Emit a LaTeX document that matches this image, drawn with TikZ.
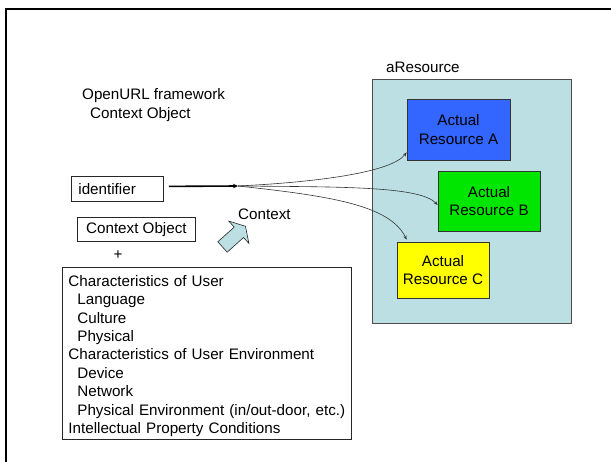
\documentclass[tikz,border=0pt]{standalone}
\usepackage{fontspec}
\setmainfont{Liberation Sans}
\usetikzlibrary{arrows.meta}
\definecolor{resbg}{RGB}{187,223,226}
\definecolor{resA}{RGB}{51,102,255}
\definecolor{resB}{RGB}{0,230,0}
\definecolor{resC}{RGB}{255,255,0}
\begin{document}
\begin{tikzpicture}[x=1pt,y=-1pt,
  font=\fontsize{15.2}{18.4}\selectfont,
  lbl/.style={anchor=base west, inner sep=0pt},
  box/.style={draw=black!85, line width=0.8pt, inner sep=0pt},
  res/.style={draw=black!80, line width=0.8pt, inner sep=0pt, align=center},
  thinarrow/.style={draw=black!80, line width=0.6pt, -{Stealth[length=4pt,width=3.2pt]}}]
\useasboundingbox (0,0) rectangle (611,462);
\fill[white] (0,0) rectangle (611,462);
\draw[line width=2pt] (6,462) -- (6,9.3) -- (611,9.3);

\node[lbl] (t1) at (82,99.5) {OpenURL framework};
\node[lbl] (t2) at (90,118.5) {Context Object};
\node[lbl] (lar) at (386,72.5) {aResource};

\node[draw=black!70, fill=resbg, line width=0.8pt, minimum width=199pt, minimum height=244pt, anchor=north west, inner sep=0pt] (big) at (372,79) {};

\node[res, fill=resA, minimum width=103pt, minimum height=61pt] (A) at (458.5,129.5) {Actual\\Resource A};
\node[res, fill=resB, minimum width=102pt, minimum height=60pt] (B) at (489,201) {Actual\\Resource B};
\node[res, fill=resC, minimum width=92pt, minimum height=56pt] (C) at (443,270) {Actual\\Resource C};

\node[box, minimum width=92pt, minimum height=25pt, anchor=north west, text width=78pt, align=left, inner xsep=7pt] (id) at (71,176) {identifier};
\node[box, minimum width=118pt, minimum height=24pt, anchor=north west] (co) at (77,217) {Context Object};
\node (plus) at (118,255) {+};

\node[box, anchor=north west, minimum width=289pt, minimum height=172pt, text width=277pt, inner xsep=6pt, align=left] (chars) at (62,267) {\rule{0pt}{16pt}Characteristics of User\\
\hspace*{9pt}Language\\
\hspace*{9pt}Culture\\
\hspace*{9pt}Physical\\
Characteristics of User Environment\\
\hspace*{9pt}Device\\
\hspace*{9pt}Network\\
\hspace*{9pt}Physical Environment (in/out-door, etc.)\\
Intellectual Property Conditions};

\node[lbl] (ctx) at (238,219.5) {Context};

\coordinate (hub) at (238,186);
\draw[line width=1.6pt, -{Stealth[length=5pt,width=4.5pt]}] ([xshift=5pt,yshift=2.5pt]id.east) -- (hub);

\draw[thinarrow] (hub) .. controls (320,182) and (392,172) .. ([yshift=8pt]A.south west);
\draw[thinarrow] (hub) .. controls (340,187) and (420,186) .. ([yshift=-4pt]B.west);
\draw[thinarrow] (hub) .. controls (330,196) and (390,205) .. ([xshift=10pt,yshift=2pt]C.north west);

\draw[fill=resbg, draw=black!85, line width=0.6pt, line join=miter]
  (227.2,252.2) -- (243.5,237.5) -- (248.9,243.4) -- (245.5,226.3)
  -- (228.8,221.1) -- (234.2,227.1) -- (217.8,241.8) -- cycle;
\end{tikzpicture}
\end{document}
